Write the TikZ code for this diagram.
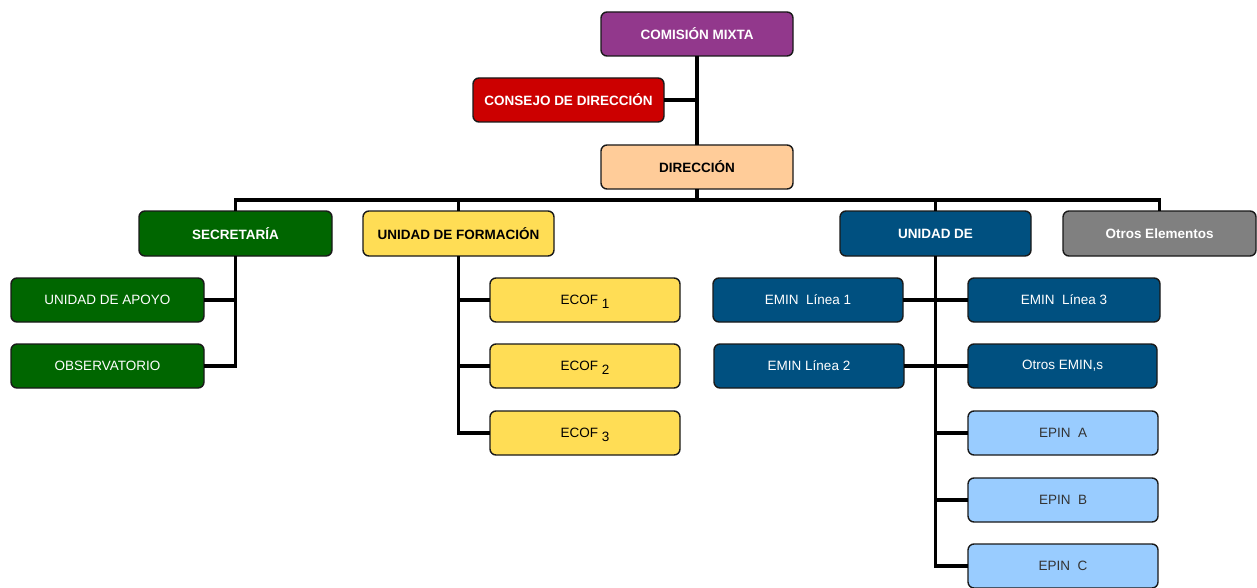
\documentclass[tikz,border=0pt]{standalone}
\usepackage{fontspec}
\setmainfont{Liberation Sans}
\definecolor{cpurple}{RGB}{146,56,140}
\definecolor{cred}{RGB}{204,0,0}
\definecolor{cpeach}{RGB}{255,204,153}
\definecolor{cgreen}{RGB}{0,102,0}
\definecolor{cyellow}{RGB}{255,221,85}
\definecolor{cnavy}{RGB}{0,80,128}
\definecolor{cgray}{RGB}{128,128,128}
\definecolor{clight}{RGB}{153,204,255}
\definecolor{cborder}{RGB}{25,25,25}
\tikzset{
  box/.style={draw=cborder, line width=1.4pt, rounded corners=6pt,
    minimum width=192pt, minimum height=44pt, inner sep=0pt, outer sep=0pt,
    font=\fontsize{13.5}{15}\selectfont},
  boldbox/.style={box, font=\fontsize{13.5}{15}\selectfont\bfseries},
  conn/.style={line width=3.7pt, draw=black},
}
\newcommand{\sub}[1]{\raisebox{-4pt}[0pt][0pt]{#1}}
\begin{document}
\begin{tikzpicture}[x=1pt,y=-1pt]
\useasboundingbox[fill=white] (0,0) rectangle (1257,588);
\coordinate (bus) at (697,200);
% nodes
\node[boldbox, fill=cpurple, text=white] (comision) at (697,34) {COMISIÓN MIXTA};
\node[boldbox, fill=cred, text=white, minimum width=191pt] (consejo) at (568.5,100) {CONSEJO DE DIRECCIÓN};
\node[boldbox, fill=cpeach, text=black] (direccion) at (697,167) {DIRECCIÓN};
\node[boldbox, fill=cgreen, text=white, minimum width=193pt, minimum height=45pt] (secretaria) at (235.5,233.5) {SECRETARÍA};
\node[boldbox, fill=cyellow, text=black, minimum width=191pt, minimum height=45pt] (ufor) at (458.5,233.5) {UNIDAD DE FORMACIÓN};
\node[boldbox, fill=cnavy, text=white, minimum width=191pt, minimum height=45pt] (unidad) at (935.5,233.5) {UNIDAD DE};
\node[boldbox, fill=cgray, text=white, minimum width=193pt, minimum height=45pt] (otros) at (1159.5,233.5) {Otros Elementos};
\node[box, fill=cgreen, text=white, minimum width=193pt] (apoyo) at (107.5,300) {UNIDAD DE APOYO};
\node[box, fill=cgreen, text=white, minimum width=193pt] (obs) at (107.5,366) {OBSERVATORIO};
\node[box, fill=cyellow, text=black, minimum width=190pt] (ecof1) at (585,300) {ECOF \sub{1}};
\node[box, fill=cyellow, text=black, minimum width=190pt] (ecof2) at (585,366) {ECOF \sub{2}};
\node[box, fill=cyellow, text=black, minimum width=190pt] (ecof3) at (585,433) {ECOF \sub{3}};
\node[box, fill=cnavy, text=white, minimum width=190pt] (emin1) at (808,300) {EMIN\ \ Línea 1};
\node[box, fill=cnavy, text=white, minimum width=190pt] (emin2) at (809,366) {EMIN Línea 2};
\node[box, fill=cnavy, text=white, minimum width=192pt] (emin3) at (1064,300) {EMIN\ \ Línea 3};
\node[box, fill=cnavy, text=white, minimum width=189pt] (oemin) at (1062.5,366) {Otros EMIN,s};
\node[box, fill=clight, text=black!80, minimum width=190pt] (epina) at (1063,433) {EPIN\ \ A};
\node[box, fill=clight, text=black!80, minimum width=190pt] (epinb) at (1063,500) {EPIN\ \ B};
\node[box, fill=clight, text=black!80, minimum width=190pt] (epinc) at (1063,566) {EPIN\ \ C};
% connectors
\draw[conn] (comision.south) -- (direccion.north);
\draw[conn] (consejo.east) -- (consejo.east -| comision.south);
\draw[conn] (direccion.south) -- (bus);
\draw[conn] (secretaria.north) |- (bus) -| (otros.north);
\draw[conn] (ufor.north) |- (bus);
\draw[conn] (unidad.north) |- (bus);
\draw[conn] (secretaria.south) |- (obs.east);
\draw[conn] (apoyo.east) -- (apoyo.east -| secretaria.south);
\draw[conn] (ufor.south) |- (ecof3.west);
\draw[conn] (ecof1.west) -- (ecof1.west -| ufor.south);
\draw[conn] (ecof2.west) -- (ecof2.west -| ufor.south);
\draw[conn] (unidad.south) |- (epinc.west);
\draw[conn] (emin1.east) -- (emin3.west);
\draw[conn] (emin2.east) -- (oemin.west);
\draw[conn] (epina.west) -- (epina.west -| unidad.south);
\draw[conn] (epinb.west) -- (epinb.west -| unidad.south);
\end{tikzpicture}
\end{document}
